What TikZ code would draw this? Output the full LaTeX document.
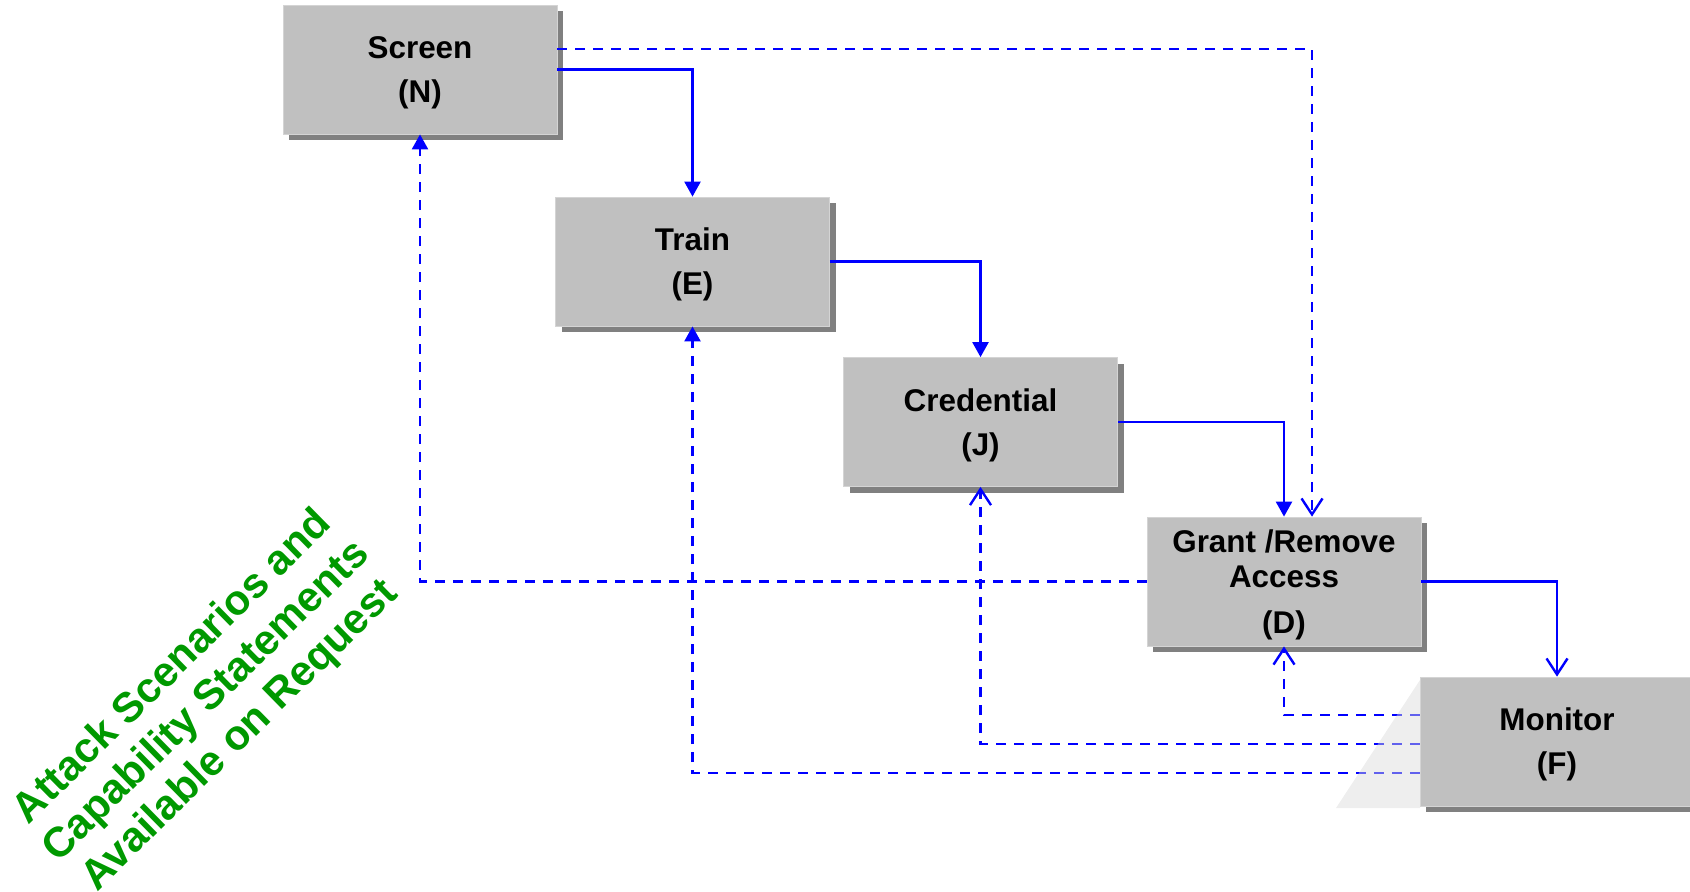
\documentclass[tikz,border=0pt]{standalone}
\usepackage{fontspec}
\setmainfont{Liberation Sans}
\usetikzlibrary{arrows.meta,shadows}

\definecolor{boxgray}{HTML}{C0C0C0}
\definecolor{shadowgray}{HTML}{808080}
\definecolor{edgegray}{HTML}{D4D4D4}
\definecolor{linkblue}{HTML}{0000FF}
\definecolor{notegreen}{HTML}{009900}

% taller first line lowers the text block slightly inside each box
\newcommand{\firstlinestrut}{\rule{0pt}{14.5pt}}

\tikzset{
  stagebox/.style={fill=boxgray, draw=edgegray, line width=0.4pt,
    minimum width=137pt, minimum height=64.5pt, inner sep=0pt,
    align=center, font=\bfseries\fontsize{15.7}{22}\selectfont,
    general shadow={fill=shadowgray, shadow xshift=3pt, shadow yshift=-3pt}},
  flow/.style={draw=linkblue, line width=1.2pt},
  backflow/.style={flow, dash pattern=on 5pt off 4pt},
  filledtip/.style={-{Triangle[length=7.5pt,width=8pt]}},
  opentip/.style={-{Straight Barb[length=8pt,width=10.5pt]}},
}

\begin{document}
\begin{tikzpicture}[x=0.5pt,y=-0.5pt]
  \useasboundingbox (0,0) rectangle (1690,891);

  % process stages
  \node[stagebox] (S) at (420,69.5)   {\firstlinestrut Screen\\(N)};
  \node[stagebox] (T) at (692.5,261.5) {\firstlinestrut Train\\(E)};
  \node[stagebox] (C) at (980.5,422)  {\firstlinestrut Credential\\(J)};
  \node[stagebox] (G) at (1284,581.5) {\firstlinestrut Grant /Remove\\[-4.5pt]Access\\[1pt](D)};
  \node[stagebox] (M) at (1557,741.5) {\firstlinestrut Monitor\\(F)};

  % forward flow
  \draw[flow, filledtip] (S.east) -| (T.north);
  \draw[flow, filledtip] (T.east) -| (C.north);
  \draw[flow, filledtip] (C.east) -| (G.north);
  \draw[flow, opentip]   (G.east) -| (M.north);

  % feedback and bypass paths
  \draw[backflow, opentip]   ([yshift=10.25pt]S.east) -| ([xshift=14pt]G.north);
  \draw[backflow, filledtip] (G.west) -| (S.south);
  \draw[backflow, opentip]   ([yshift=13.25pt]M.west) -| (G.south);
  \draw[backflow, opentip]   ([yshift=-1.25pt]M.west) -| (C.south);
  \draw[backflow, filledtip] ([yshift=-15.75pt]M.west) -| (T.south);

  % pale wedge beside the monitor stage
  \fill[black!15, opacity=0.45] (1420,680) -- (1336,808) -- (1420,808) -- cycle;

  % side note
  \node[rotate=44.5, text=notegreen, align=center,
        font=\bfseries\fontsize{21}{24}\selectfont] (note) at (207,702)
    {Attack Scenarios and\\Capability Statements\\Available on Request};
\end{tikzpicture}
\end{document}
